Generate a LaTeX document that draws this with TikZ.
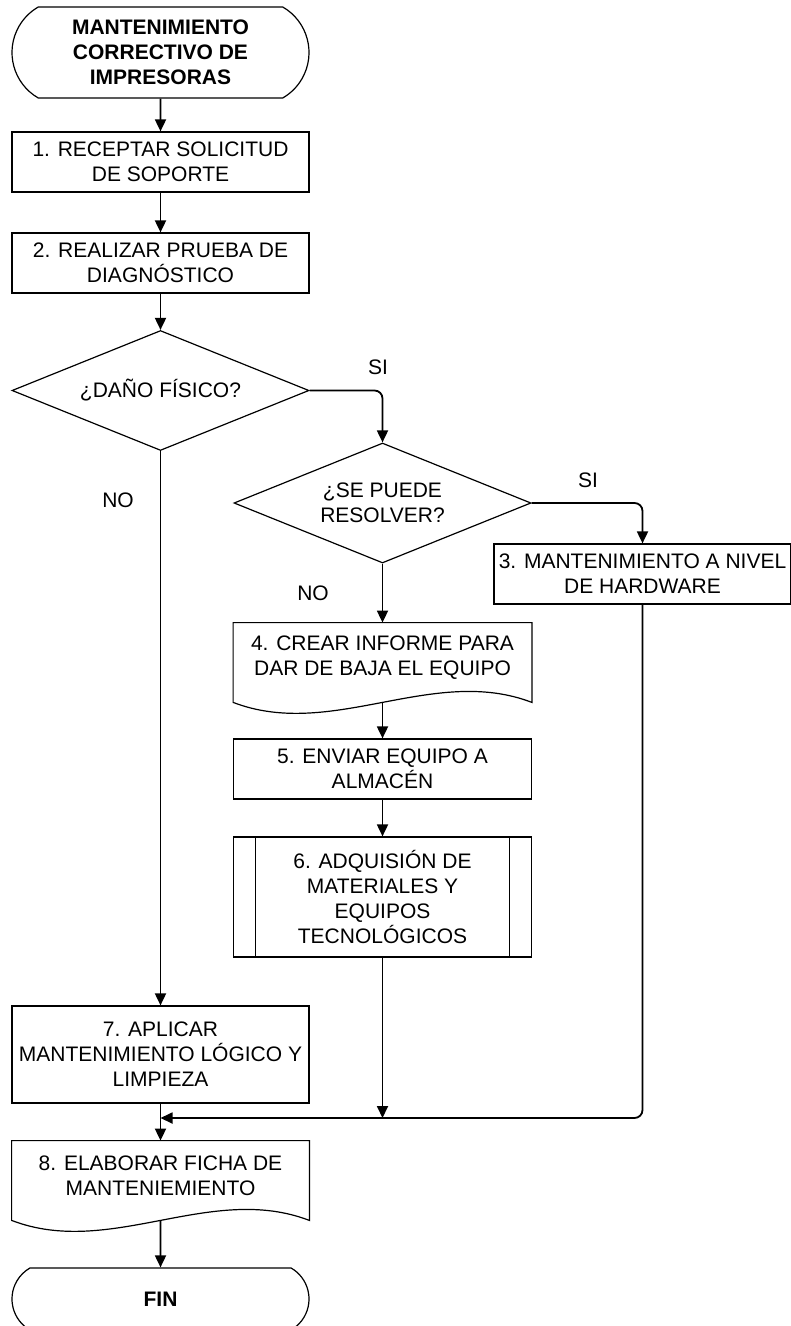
\documentclass[tikz,border=0pt]{standalone}
\usepackage{fontspec}
\setmainfont{Liberation Sans}
\usetikzlibrary{shapes.geometric, shapes.misc, arrows.meta}
\begin{document}
\begin{tikzpicture}[x=0.5pt, y=-0.5pt,
        every node/.style={font=\fontsize{10.5}{12.5}\selectfont, align=center, inner sep=0pt},
        terminal/.style={draw, line width=0.6pt, rounded rectangle, rounded rectangle arc length=120,
            minimum width=148.5pt, minimum height=45.5pt, font=\fontsize{10.5}{12.5}\selectfont\bfseries},
        process/.style={draw, line width=0.6pt, rectangle, minimum width=149pt, minimum height=30pt},
        decision/.style={draw, line width=0.6pt, diamond, aspect=2.5, minimum width=148.5pt, minimum height=60pt},
        docshape/.style={rectangle, minimum width=149pt, minimum height=35pt},
        flow/.style={-{Triangle[length=6pt, width=5.5pt]}, line width=0.9pt}]
        \useasboundingbox (0, 0) rectangle (791, 1326);

        % left column
        \node[terminal] (start) at (160.5, 52.5) {MANTENIMIENTO\\CORRECTIVO DE\\IMPRESORAS};
        \node[process, minimum width=148.5pt] (b1) at (160.5, 162) {1. RECEPTAR SOLICITUD\\DE SOPORTE};
        \node[process, minimum width=148.5pt] (b2) at (160.5, 263) {2. REALIZAR PRUEBA DE\\DIAGNÓSTICO};
        \node[decision] (dec1) at (160.5, 390.5) {¿DAÑO FÍSICO?};
        \node[process, minimum width=148.5pt, minimum height=48.5pt] (b7) at (160.5, 1054.5) {7. APLICAR\\MANTENIMIENTO LÓGICO Y\\LIMPIEZA};
        \node[docshape, minimum width=148.5pt] (d8) at (160.5, 1176) {8. ELABORAR FICHA DE\\MANTENIEMIENTO};
        \node[terminal, minimum height=31pt] (fin) at (160.5, 1299) {FIN};

        % middle column
        \node[decision] (dec2) at (382.5, 503) {¿SE PUEDE\\RESOLVER?};
        \node[docshape] (d4) at (382.5, 658) {4. CREAR INFORME PARA\\DAR DE BAJA EL EQUIPO};
        \node[process] (b5) at (382.5, 769) {5. ENVIAR EQUIPO A\\ALMACÉN};
        \node[process, minimum height=60pt] (b6) at (382.5, 897) {6. ADQUISIÓN DE\\MATERIALES Y\\EQUIPOS\\TECNOLÓGICOS};

        % right column
        \node[process, minimum width=148.5pt] (b3) at (642.5, 574) {3. MANTENIMIENTO A NIVEL\\DE HARDWARE};

        % document outlines and sub-process bars
        \draw[line width=0.6pt] (d4.north west) -- ([yshift=-4.5pt]d4.south west)
            .. controls +(99, 38) and +(-99, -38) .. ([yshift=-4.5pt]d4.south east) -- (d4.north east) -- cycle;
        \draw[line width=0.6pt] (d8.north west) -- ([yshift=-4.5pt]d8.south west)
            .. controls +(99, 38) and +(-99, -38) .. ([yshift=-4.5pt]d8.south east) -- (d8.north east) -- cycle;
        \draw[line width=0.6pt] ([xshift=11.25pt]b6.north west) -- ([xshift=11.25pt]b6.south west);
        \draw[line width=0.6pt] ([xshift=-11.25pt]b6.north east) -- ([xshift=-11.25pt]b6.south east);

        % labels
        \node (si1) at (378, 367) {SI};
        \node (no1) at (118, 500) {NO};
        \node (si2) at (588, 480) {SI};
        \node (no2) at (313, 593) {NO};

        % connectors
        \draw[flow] (start) -- (b1);
        \draw[flow] (b1) -- (b2);
        \draw[flow] (b2) -- (dec1);
        \draw[flow, rounded corners=4pt] (dec1.east) -| (dec2.north);
        \draw[flow] (dec1) -- (b7);
        \draw[flow, rounded corners=4pt] (dec2.east) -| (b3.north);
        \draw[flow] (dec2) -- (d4);
        \draw[flow] ([yshift=-4.5pt]d4.south) -- (b5);
        \draw[flow] (b5) -- (b6);
        \coordinate (join) at (160.5, 1118);
        \draw[flow] (b6) -- (b6.south |- join);
        \draw[flow, rounded corners=4pt] (b3.south) |- (join);
        \draw[flow] (b7) -- (d8);
        \draw[flow] ([yshift=-4.5pt]d8.south) -- (fin);
    \end{tikzpicture}
\end{document}
